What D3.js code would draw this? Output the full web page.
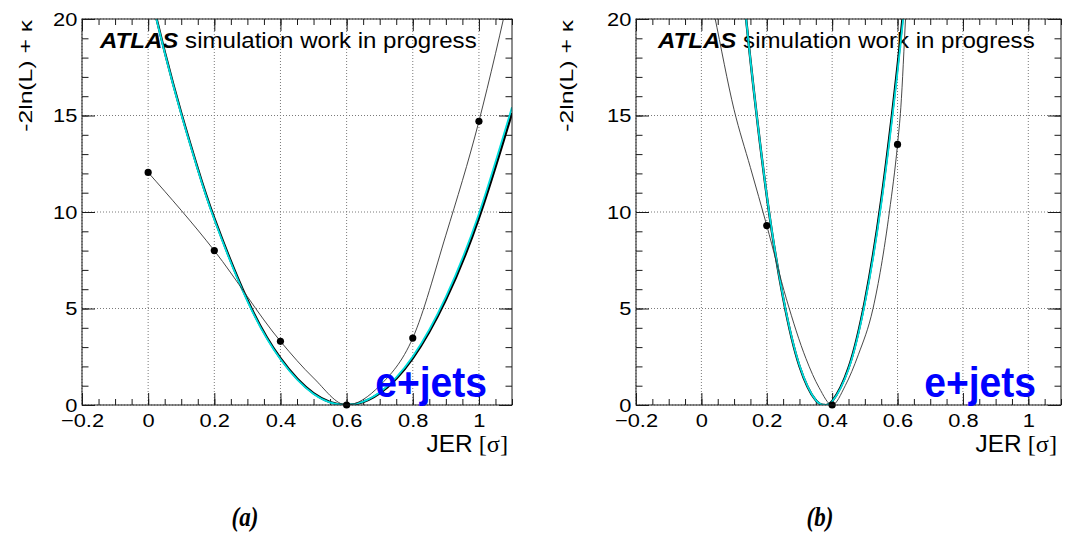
<!DOCTYPE html>
<html lang="en">
<head>
<meta charset="UTF-8">
<title>JER likelihood scan, e+jets</title>
<style>
  body { margin: 0; background: #fff; }
</style>
</head>
<body>
<svg id="svg" width="1068" height="539" font-family="'Liberation Sans', Arial, Helvetica, sans-serif"></svg>
<script src="https://d3js.org/d3.v7.min.js"></script>
<script>
// ------ DATA ------------------------
const xMajorTicks = [-0.2, 0, 0.2, 0.4, 0.6, 0.8, 1.0]
const xTickLabels = ['\u22120.2', '0', '0.2', '0.4', '0.6', '0.8', '1']
const yMajorTicks = [0, 5, 10, 15, 20]
const yTickLabels = ['0', '5', '10', '15', '20']

// panel (a): scan points and the smooth line through them
const jerA = [0, 0.2, 0.4, 0.6, 0.8, 1.0]
const nllA = [12.05, 8.0, 3.3, 0.0, 3.47, 14.7]
const smoothXA = [0, 0.2, 0.4, 0.5, 0.6, 0.7, 0.8, 0.9, 1.0, 1.05, 1.1]
const smoothYA = [12.05, 8.0, 3.3, 1.4, 0.0, 1.0, 3.47, 8.8, 14.7, 18.2, 22.0]
// panel (a): fitted parabolas (cyan and black)
const fitXA = [0.0, 0.05, 0.1, 0.15, 0.2, 0.3, 0.4, 0.5, 0.6, 0.7, 0.8, 0.9, 1.0, 1.1]
const cyanA = [21.74, 18.25, 15.07, 12.19, 9.61, 5.38, 2.37, 0.57, 0.0, 0.65, 2.51, 5.60, 9.91, 15.43]
const blackA = [21.78, 18.30, 15.13, 12.25, 9.68, 5.45, 2.42, 0.61, 0.0, 0.61, 2.42, 5.45, 9.68, 15.13]

// panel (b)
const jerB = [0.2, 0.4, 0.6]
const nllB = [9.3, 0.0, 13.5]
const smoothXB = [0.0, 0.04, 0.1, 0.15, 0.2, 0.26, 0.32, 0.36, 0.4, 0.44, 0.48, 0.525, 0.575, 0.6, 0.61, 0.625, 0.64]
const smoothYB = [23.5, 20.2, 15.3, 12.3, 9.3, 5.5, 2.4, 0.9, 0.0, 1.0, 2.6, 5.0, 10.0, 13.5, 15.4, 20.2, 25.0]
const fitXB = [0.12, 0.15, 0.2, 0.25, 0.3, 0.35, 0.377, 0.4, 0.45, 0.5, 0.55, 0.6, 0.63]
const cyanB = [22.92, 17.88, 10.87, 5.60, 2.06, 0.25, 0.0, 0.18, 1.85, 5.25, 10.39, 17.26, 22.21]
const blackB = [22.94, 17.88, 10.84, 5.56, 2.02, 0.24, 0.0, 0.20, 1.92, 5.38, 10.60, 17.56, 22.58]

// ------ LAYOUT ------------------------
const plotTop = 19
const plotBottom = 405
const panels = [
  { id: 'a', left: 82, right: 512, atlasX: 100, yTitleX: 32, caption: '(a)', captionX: 245,
    ptsX: jerA, ptsY: nllA, smX: smoothXA, smY: smoothYA, fitX: fitXA, cyan: cyanA, black: blackA },
  { id: 'b', left: 636, right: 1061, atlasX: 658, yTitleX: 573, caption: '(b)', captionX: 820,
    ptsX: jerB, ptsY: nllB, smX: smoothXB, smY: smoothYB, fitX: fitXB, cyan: cyanB, black: blackB }
]

const svg = d3.select('#svg')
const defs = svg.append('defs')

const styleAxis = (sel, withText) => {
  sel.select('.domain').remove()
  sel.attr('font-family', "'Liberation Sans', Arial, sans-serif")
    .attr('font-size', 19)
    .attr('color', '#1a1a1a')
  sel.selectAll('line').attr('stroke-width', 1)
  if (withText) sel.selectAll('text').attr('transform', 'scale(1.15,1)').attr('fill', '#000')
}

function drawPanel(p) {
  const x = d3.scaleLinear().domain([-0.2, 1.1]).range([p.left, p.right])
  const y = d3.scaleLinear().domain([0, 20]).range([plotBottom, plotTop])
  const g = svg.append('g')

  defs.append('clipPath').attr('id', 'clip-' + p.id)
    .append('rect')
    .attr('x', p.left).attr('y', plotTop)
    .attr('width', p.right - p.left).attr('height', plotBottom - plotTop)

  // grid (dotted)
  g.append('g').selectAll('line').data(xMajorTicks).join('line')
    .attr('x1', d => x(d)).attr('x2', d => x(d))
    .attr('y1', plotTop).attr('y2', plotBottom)
    .attr('stroke', '#7a7a7a').attr('stroke-dasharray', '1,2')
  g.append('g').selectAll('line').data(yMajorTicks).join('line')
    .attr('x1', p.left).attr('x2', p.right)
    .attr('y1', d => y(d)).attr('y2', d => y(d))
    .attr('stroke', '#7a7a7a').attr('stroke-dasharray', '1,2')

  // ATLAS label (below the curves)
  const atlas = g.append('text')
    .attr('transform', `translate(${p.atlasX},48) scale(1.12,1)`)
    .attr('font-size', 21.5)
  atlas.append('tspan').attr('font-weight', 'bold').attr('font-style', 'italic').text('ATLAS')
  atlas.append('tspan').text(' simulation work in progress')

  // axes: major + minor ticks, all pointing inwards
  const xMinor = d3.range(-0.2, 1.1001, 0.05)
  const yMinor = d3.range(0, 20.001, 1)
  const none = () => ''

  g.append('g').attr('transform', `translate(0,${plotBottom})`)
    .call(d3.axisBottom(x).tickValues(xMajorTicks).tickFormat((d, i) => xTickLabels[i]).tickSize(-12).tickPadding(9))
    .call(s => styleAxis(s, true))
  g.append('g').attr('transform', `translate(0,${plotBottom})`)
    .call(d3.axisBottom(x).tickValues(xMinor).tickFormat(none).tickSize(-6))
    .call(s => styleAxis(s, false))
  g.append('g').attr('transform', `translate(0,${plotTop})`)
    .call(d3.axisTop(x).tickValues(xMajorTicks).tickFormat(none).tickSize(-12))
    .call(s => styleAxis(s, false))
  g.append('g').attr('transform', `translate(0,${plotTop})`)
    .call(d3.axisTop(x).tickValues(xMinor).tickFormat(none).tickSize(-6))
    .call(s => styleAxis(s, false))

  g.append('g').attr('transform', `translate(${p.left},0)`)
    .call(d3.axisLeft(y).tickValues(yMajorTicks).tickFormat((d, i) => yTickLabels[i]).tickSize(-13).tickPadding(4))
    .call(s => styleAxis(s, true))
  g.append('g').attr('transform', `translate(${p.left},0)`)
    .call(d3.axisLeft(y).tickValues(yMinor).tickFormat(none).tickSize(-6.5))
    .call(s => styleAxis(s, false))
  g.append('g').attr('transform', `translate(${p.right},0)`)
    .call(d3.axisRight(y).tickValues(yMajorTicks).tickFormat(none).tickSize(-13))
    .call(s => styleAxis(s, false))
  g.append('g').attr('transform', `translate(${p.right},0)`)
    .call(d3.axisRight(y).tickValues(yMinor).tickFormat(none).tickSize(-6.5))
    .call(s => styleAxis(s, false))

  // curves
  const plot = g.append('g').attr('clip-path', `url(#clip-${p.id})`)
  const fitLine = d3.line().x(d => x(d[0])).y(d => y(d[1])).curve(d3.curveNatural)
  const thinLine = d3.line().x(d => x(d[0])).y(d => y(d[1])).curve(d3.curveMonotoneX)

  plot.append('path').datum(d3.zip(p.fitX, p.black))
    .attr('d', fitLine).attr('fill', 'none')
    .attr('stroke', '#000').attr('stroke-width', 2.4)
  plot.append('path').datum(d3.zip(p.fitX, p.cyan))
    .attr('d', fitLine).attr('fill', 'none')
    .attr('stroke', '#00dede').attr('stroke-width', 1.8)
  plot.append('path').datum(d3.zip(p.smX, p.smY))
    .attr('d', thinLine).attr('fill', 'none')
    .attr('stroke', '#333').attr('stroke-width', 0.9)

  g.append('g').selectAll('circle').data(d3.zip(p.ptsX, p.ptsY)).join('circle')
    .attr('cx', d => x(d[0])).attr('cy', d => y(d[1]))
    .attr('r', 3.6).attr('fill', '#000')

  // frame
  g.append('rect')
    .attr('x', p.left).attr('y', plotTop)
    .attr('width', p.right - p.left).attr('height', plotBottom - plotTop)
    .attr('fill', 'none').attr('stroke', '#1a1a1a').attr('stroke-width', 1)

  // e+jets
  g.append('text')
    .attr('transform', `translate(${p.right - 25},397) scale(0.93,1)`)
    .attr('text-anchor', 'end')
    .attr('font-size', 42).attr('font-weight', 'bold')
    .attr('fill', '#0000ff')
    .text('e+jets')

  // y title
  g.append('text')
    .attr('transform', `translate(${p.yTitleX},20) rotate(-90) scale(1.3,1)`)
    .attr('text-anchor', 'end')
    .attr('font-size', 19)
    .text('-2ln(L) + \u03ba')

  // x title
  const xt = g.append('text')
    .attr('transform', `translate(${p.right - 4},452) scale(1.06,1)`)
    .attr('text-anchor', 'end')
    .attr('font-size', 23)
  xt.append('tspan').text('JER')
  xt.append('tspan').attr('font-family', "'Liberation Serif', 'Times New Roman', serif").text(' [\u03c3]')

  // caption
  svg.append('text')
    .attr('transform', `translate(${p.captionX},526) scale(0.92,1.1)`)
    .attr('text-anchor', 'middle')
    .attr('font-family', "'Liberation Serif', 'Times New Roman', serif")
    .attr('font-style', 'italic').attr('font-weight', 'bold')
    .attr('font-size', 25)
    .text(p.caption)
}

panels.forEach(drawPanel)
</script>
</body>
</html>
